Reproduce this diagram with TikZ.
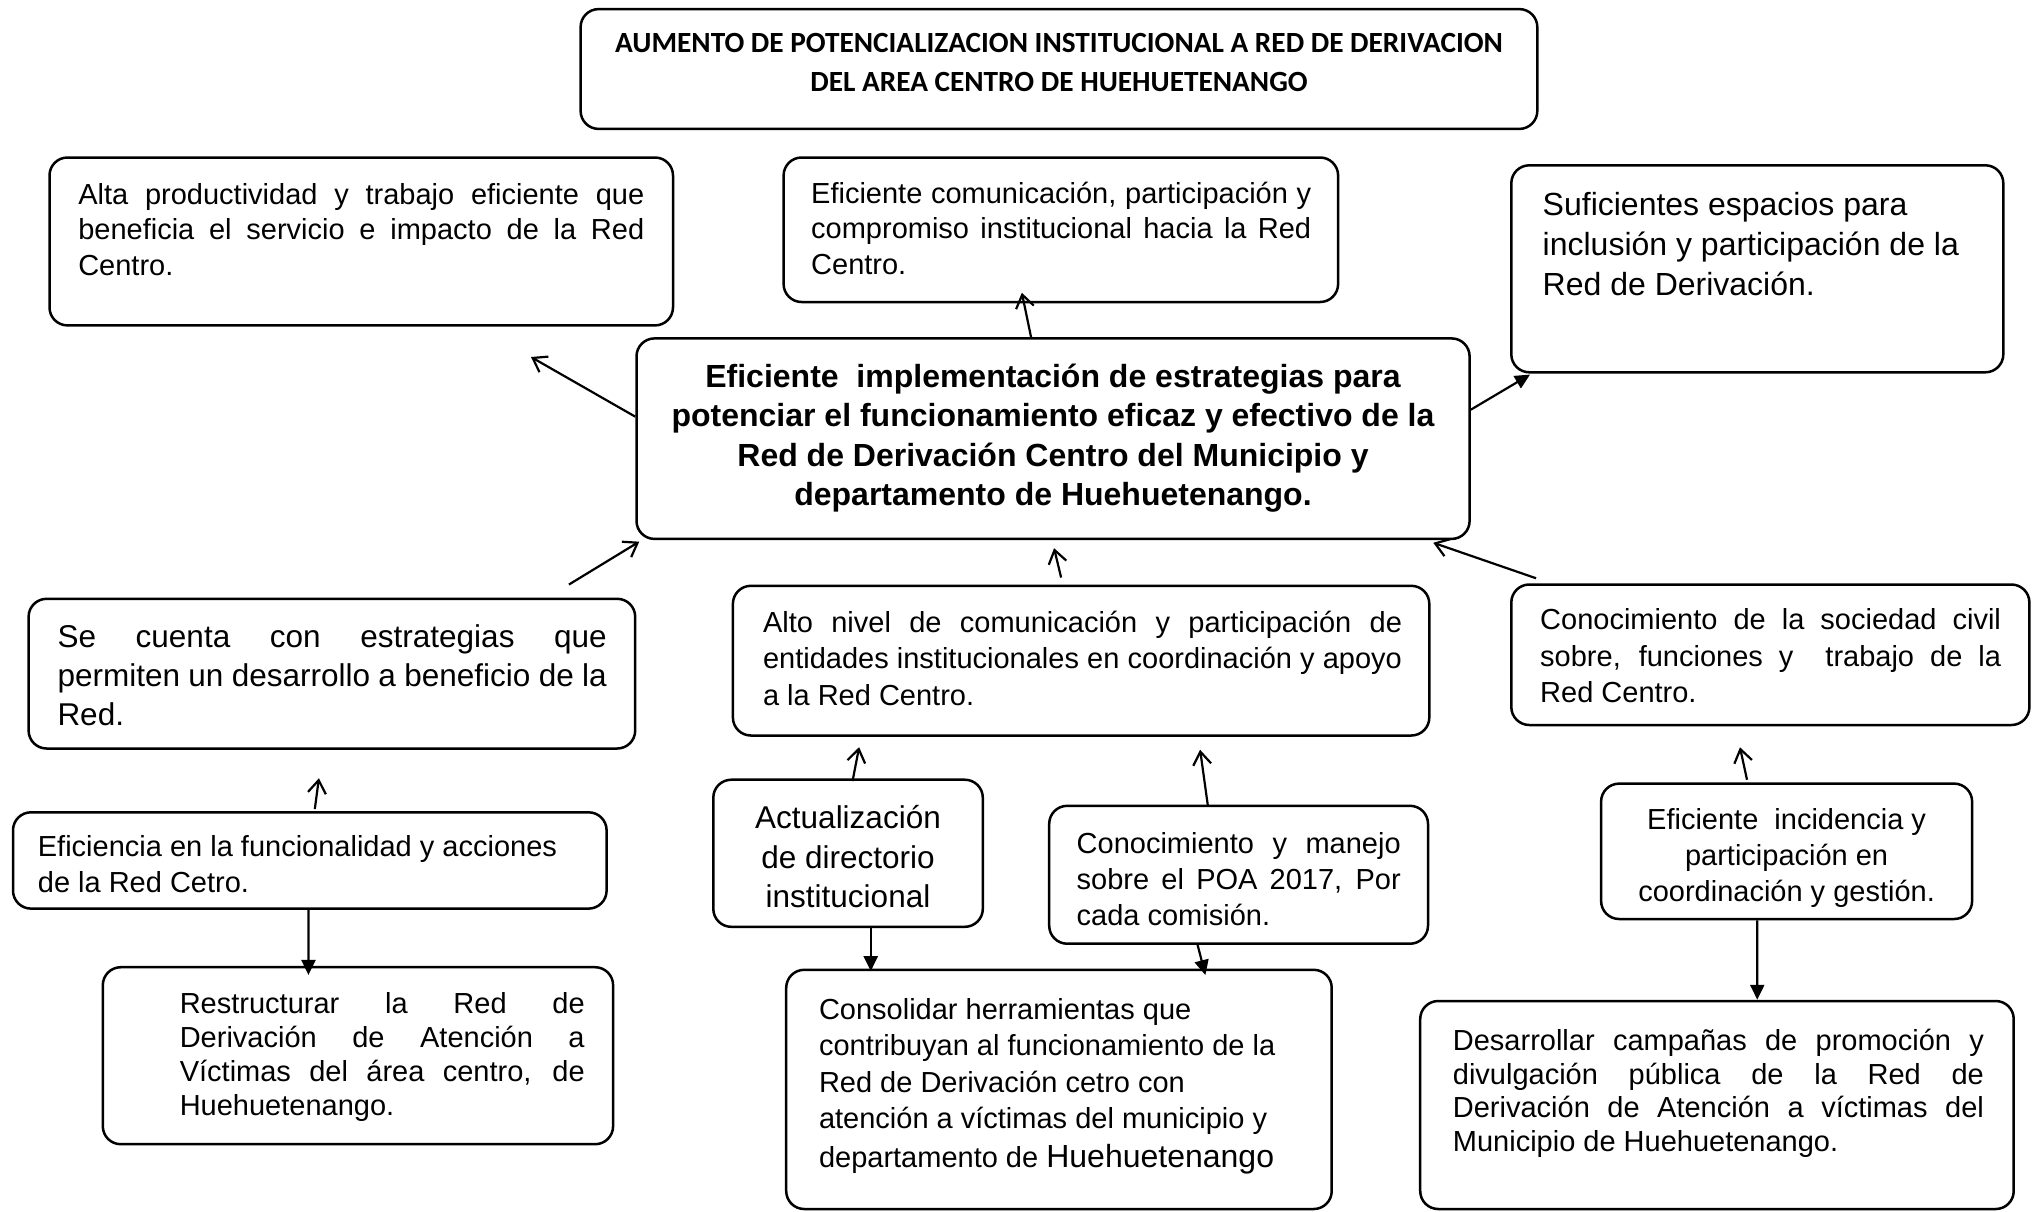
\documentclass[tikz,border=0pt]{standalone}
\usepackage{fontspec}
\setmainfont{Liberation Sans}
\newfontfamily\calfont{Carlito}
\usetikzlibrary{arrows.meta,calc,fit}
\begin{document}
\begin{tikzpicture}[x=1pt,y=-1pt,
  box/.style={draw, line width=2.5pt, rounded corners=18pt, inner sep=0pt},
  txt/.style={inner sep=0pt, anchor=base west},
  ctxt/.style={inner sep=0pt, anchor=base},
  openarr/.style={line width=2.2pt, -{Straight Barb[length=13pt,width=18pt]}},
  fillarr/.style={line width=2.2pt, -{Triangle[length=15pt,width=14pt]}},
]
\useasboundingbox (0,0) rectangle (2041,1211);

% boxes
\node[box, fit={(580.6,9.1) (1537.3,128.9)}] (A) {};
\node[box, fit={(49.5,157.5) (673,325.4)}] (B) {};
\node[box, fit={(783.6,157.5) (1338.1,302)}] (C) {};
\node[box, fit={(1511.3,165.3) (2003.3,372.3)}] (D) {};
\node[box, fit={(636.5,338.4) (1469.6,538.9)}] (E) {};
\node[box, fit={(28.6,598.8) (635.2,748.5)}] (F) {};
\node[box, fit={(732.9,585.8) (1429.3,735.5)}] (G) {};
\node[box, fit={(1511.3,584.5) (2029.4,725)}] (H) {};
\node[box, fit={(13,812.3) (606.6,908.6)}] (I) {};
\node[box, fit={(713.3,779.7) (982.8,926.8)}] (J) {};
\node[box, fit={(1049.2,805.8) (1428,943.7)}] (K) {};
\node[box, fit={(1601.1,783.6) (1972.1,919)}] (L) {};
\node[box, fit={(102.8,967.2) (613.1,1144.2)}] (M) {};
\node[box, fit={(786.2,969.8) (1331.7,1209)}] (N) {};
\node[box, fit={(1420.2,1001) (2013.7,1209)}] (O) {};

% texts
\node[ctxt] (At) at (1059,52.4) {\parbox[t]{950pt}{\centering\calfont\bfseries\fontsize{29.3}{39}\selectfont AUMENTO DE POTENCIALIZACION INSTITUCIONAL A RED DE DERIVACION\\DEL AREA CENTRO DE HUEHUETENANGO}};

\node[txt] (Bt) at (78.1,204) {\parbox[t]{566pt}{\fontsize{29}{35.8}\selectfont
\makebox[566pt][s]{Alta productividad y trabajo eficiente que}\\
\makebox[566pt][s]{beneficia el servicio e impacto de la Red}\\
Centro.}};

\node[txt] (Ct) at (811,203) {\parbox[t]{500pt}{\fontsize{29}{35.8}\selectfont
\makebox[500pt][s]{Eficiente comunicación, participación y}\\
\makebox[500pt][s]{compromiso institucional hacia la Red}\\
Centro.}};

\node[txt] (Dt) at (1542.5,215.6) {\parbox[t]{460pt}{\fontsize{32}{39.7}\selectfont
Suficientes espacios para\\
inclusión y participación de la\\
Red de Derivación.}};

\node[ctxt] (Et) at (1053,387.4) {\parbox[t]{820pt}{\centering\bfseries\fontsize{32}{39.5}\selectfont
Eficiente\ \ implementación de estrategias para\\
potenciar el funcionamiento eficaz y efectivo de la\\
Red de Derivación Centro del Municipio y\\
departamento de Huehuetenango.}};

\node[txt] (Ft) at (57.3,647.5) {\parbox[t]{549.3pt}{\fontsize{31.5}{39}\selectfont
\makebox[549.3pt][s]{Se cuenta con estrategias que}\\
\makebox[549.3pt][s]{permiten un desarrollo a beneficio de la}\\
Red.}};

\node[txt] (Gt) at (762.8,632.4) {\parbox[t]{639pt}{\fontsize{29}{36.4}\selectfont
\makebox[639pt][s]{Alto nivel de comunicación y participación de}\\
\makebox[639pt][s]{entidades institucionales en coordinación y apoyo}\\
a la Red Centro.}};

\node[txt] (Ht) at (1540,629.8) {\parbox[t]{460.8pt}{\fontsize{29}{36.4}\selectfont
\makebox[460.8pt][s]{Conocimiento de la sociedad civil}\\
\makebox[460.8pt][s]{sobre, funciones y\ \ trabajo de la}\\
Red Centro.}};

\node[txt] (It) at (37.7,856.3) {\parbox[t]{560pt}{\fontsize{29}{36.4}\selectfont
Eficiencia en la funcionalidad y acciones\\
de la Red Cetro.}};

\node[ctxt] (Jt) at (848,828.5) {\parbox[t]{260pt}{\centering\fontsize{31.5}{39.7}\selectfont
Actualización\\
de directorio\\
institucional}};

\node[txt] (Kt) at (1076.5,853.7) {\parbox[t]{324pt}{\fontsize{29}{35.8}\selectfont
\makebox[324pt][s]{Conocimiento y manejo}\\
\makebox[324pt][s]{sobre el POA 2017, Por}\\
cada comisión.}};

\node[ctxt] (Lt) at (1786.6,829) {\parbox[t]{360pt}{\centering\fontsize{29}{36.4}\selectfont
Eficiente\ \ incidencia y\\
participación en\\
coordinación y gestión.}};

\node[txt] (Mt) at (179.6,1013.8) {\parbox[t]{404.9pt}{\fontsize{29}{33.8}\selectfont
\makebox[404.9pt][s]{Restructurar la Red de}\\
\makebox[404.9pt][s]{Derivación de Atención a}\\
\makebox[404.9pt][s]{Víctimas del área centro, de}\\
Huehuetenango.}};

\node[txt] (Nt) at (818.8,1019) {\parbox[t]{500pt}{\fontsize{29}{36.5}\selectfont
Consolidar herramientas que\\
contribuyan al funcionamiento de la\\
Red de Derivación cetro con\\
atención a víctimas del municipio y\\[2.5pt]
departamento de {\fontsize{32}{36.5}\selectfont Huehuetenango}}};

\node[txt] (Ot) at (1452.7,1050.2) {\parbox[t]{531pt}{\fontsize{29}{33.8}\selectfont
\makebox[531pt][s]{Desarrollar campañas de promoción y}\\
\makebox[531pt][s]{divulgación pública de la Red de}\\
\makebox[531pt][s]{Derivación de Atención a víctimas del}\\
Municipio de Huehuetenango.}};

% connectors
\coordinate (tB) at (531,357);
\draw[openarr] ($(E.west)+(0,-22)$) -- (tB);
\draw[openarr] ($(E.north)+(-22,0)$) -- ($(C.south)+(-39,-10.5)$);
\draw[fillarr] ($(E.east)+(0,-29)$) -- ($(D.south west)+(20,1)$);
\draw[openarr] ($(F.north)+(237,-13)$) -- ($(E.south west)+(4,1.5)$);
\draw[openarr] ($(G.north)+(-20,-7)$) -- ($(E.south)+(1,8)$);
\draw[openarr] ($(H.north west)+(26,-5)$) -- ($(E.south east)+(-37.6,2.6)$);
\draw[openarr] ($(I.north)+(5,-2)$) -- ($(F.south)+(-13,28.5)$);
\draw[fillarr] ($(I.south)+(-1.3,0)$) -- ($(M.north)+(-49.5,9)$);
\draw[openarr] ($(J.north)+(4.5,2.6)$) -- ($(G.south)+(-222,10.4)$);
\draw[openarr] ($(K.north)+(-30.6,2.2)$) -- ($(G.south)+(119,13)$);
\draw[fillarr] ($(J.south)+(22.7,0)$) -- ($(N.north)+(-188.2,2.6)$);
\draw[fillarr] ($(K.south)+(-41,0)$) -- ($(N.north)+(146.4,6.5)$);
\draw[openarr] ($(L.north)+(-39.6,-2.6)$) -- ($(H.south)+(-30.4,21)$);
\draw[fillarr] ($(L.south)+(-29.3,0)$) -- ($(O.north)+(40.3,0)$);
\end{tikzpicture}
\end{document}
